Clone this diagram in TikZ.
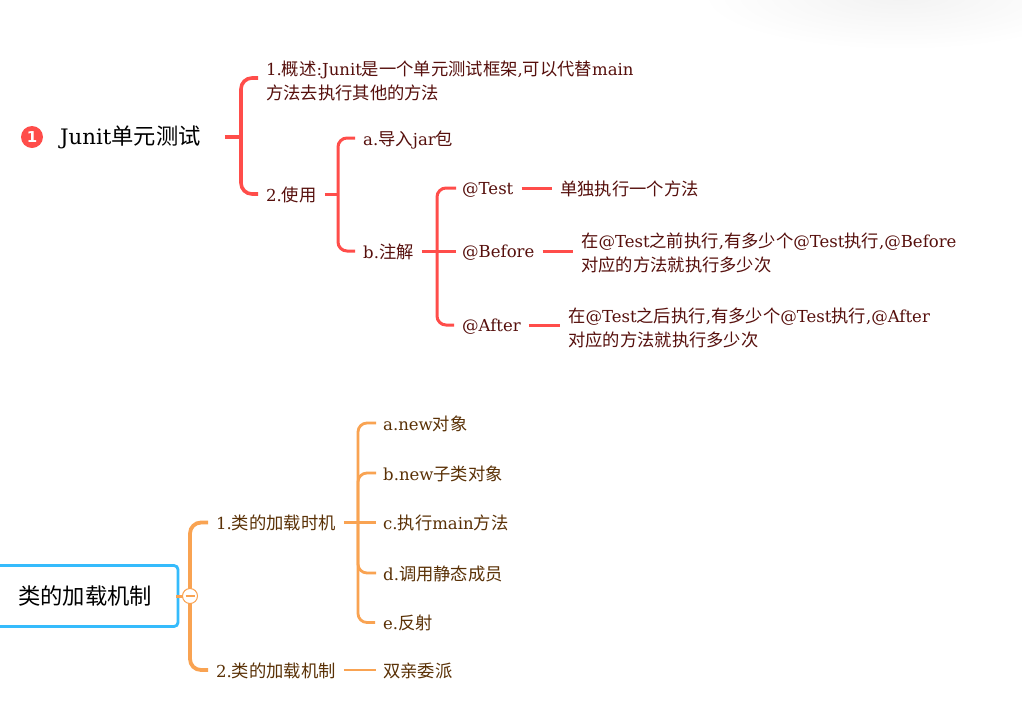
\documentclass[tikz,border=0pt]{standalone}
\usepackage{fontspec}
\setmainfont{DejaVu Serif}[Scale=0.955]
\newfontfamily\cjk{Noto Sans CJK SC}
\newfontfamily\badgefont{DejaVu Sans}
\newcommand{\zh}[1]{{\cjk #1}}
\usetikzlibrary{calc,positioning}
\definecolor{redline}{HTML}{FF4D4A}
\definecolor{redtext}{HTML}{560F0C}
\definecolor{orangeline}{HTML}{F9A352}
\definecolor{orangetext}{HTML}{5A3106}
\definecolor{bluebox}{HTML}{35BBFC}

\begin{document}
\begin{tikzpicture}[
  x=1pt, y=-1pt,
  item/.style={anchor=west, inner sep=0pt, align=left, text height=16pt, text depth=2pt, font=\fontsize{17.3}{24.3}\selectfont},
  reditem/.style={item, text=redtext},
  orangeitem/.style={item, text=orangetext},
  tagitem/.style={reditem, text height=15pt, text depth=3pt},
  twolines/.style={reditem, text height=, text depth=},
  redlink/.style={draw=redline, line width=3pt, rounded corners=9pt, shorten <=8pt, shorten >=8pt},
  redmain/.style={redlink, line width=3.6pt, rounded corners=11pt},
  orangelink/.style={draw=orangeline, line width=2.8pt, rounded corners=9pt, shorten <=8pt, shorten >=8pt},
  orangemain/.style={orangelink, line width=3.8pt, rounded corners=11pt}
]
\clip (0,0) rectangle (1022,721);
\fill[white] (0,0) rectangle (1022,721);
\shade[inner color=black!5, outer color=white] (900,-5) ellipse (200 and 55);

% first map
\node[circle, fill=redline, text=white, inner sep=0pt, minimum size=22pt, font=\badgefont\bfseries\fontsize{15}{15}\selectfont] (badge) at (32,137) {1};
\node[item, text height=19pt, text depth=5pt, font=\fontsize{22.3}{26}\selectfont] (junit) at (60,137) {Junit\zh{单元测试}};

\node[twolines] (overview) at (266,81) {1.\zh{概述}:Junit\zh{是一个单元测试框架},\zh{可以代替}main\\\zh{方法去执行其他的方法}};
\node[reditem] (usage) at (266,194) {2.\zh{使用}};
\node[reditem] (jar) at (363,138) {a.\zh{导入}jar\zh{包}};
\node[reditem] (notes) at (363,251) {b.\zh{注解}};
\node[tagitem] (test) at (462,188) {@Test};
\node[tagitem] (before) at (462,251) {@Before};
\node[tagitem] (after) at (462,325) {@After};
\node[reditem] (testdoc) at (560,188) {\zh{单独执行一个方法}};
\node[twolines] (beforedoc) at (581,253) {\zh{在}@Test\zh{之前执行},\zh{有多少个}@Test\zh{执行},@Before\\\zh{对应的方法就执行多少次}};
\node[twolines] (afterdoc) at (568,328) {\zh{在}@Test\zh{之后执行},\zh{有多少个}@Test\zh{执行},@After\\\zh{对应的方法就执行多少次}};

\coordinate (junithub) at (241,137);
\coordinate (usagehub) at (338,194);
\coordinate (noteshub) at (437,251);

\draw[redmain, shorten >=0pt, shorten <=24pt] (junit.east) -- (junithub);
\draw[redmain] ($(overview.west)+(0,-3)$) -| (junithub) |- (usage.west);
\draw[redlink, shorten >=0pt] (usage.east) -- (usagehub);
\draw[redlink] (jar.west) -| (usagehub) |- (notes.west);
\draw[redlink, shorten >=0pt] (notes.east) -- (noteshub);
\draw[redlink, shorten <=6pt] (test.west) -| (noteshub) |- (after.west);
\draw[redlink, shorten >=0pt, shorten <=6pt] (before.west) -- (noteshub);
\draw[redlink] (test.east) -- (testdoc.west);
\draw[redlink] (before.east) -- (before.east -| beforedoc.west);
\draw[redlink] (after.east) -- (after.east -| afterdoc.west);

% second map
\node[draw=bluebox, line width=2.8pt, rounded corners=4pt, fill=white, minimum width=186pt, minimum height=61pt, inner sep=0pt, font=\fontsize{22.3}{26}\selectfont] (loading) at (85,596) {\zh{类的加载机制}};

\node[orangeitem] (timing) at (216,522.5) {1.\zh{类的加载时机}};
\node[orangeitem] (mechanism) at (216,670) {2.\zh{类的加载机制}};
\node[orangeitem] (newobj) at (383,423) {a.new\zh{对象}};
\node[orangeitem] (newsub) at (383,473) {b.new\zh{子类对象}};
\node[orangeitem] (runmain) at (383,522.5) {c.\zh{执行}main\zh{方法}};
\node[orangeitem] (callstatic) at (383,573) {d.\zh{调用静态成员}};
\node[orangeitem] (reflection) at (383,622.5) {e.\zh{反射}};
\node[orangeitem] (parents) at (383,670) {\zh{双亲委派}};

\coordinate (loadinghub) at (190,596);
\coordinate (timinghub) at (358,522.5);

\draw[orangemain] (timing.west) -| (loadinghub) |- (mechanism.west);
\draw[orangelink, shorten >=0pt] (timing.east) -- (timinghub);
\draw[orangelink, shorten <=7pt] (newobj.west) -| (timinghub) |- (reflection.west);
\foreach \branch in {newsub,callstatic} {
  \draw[orangelink, shorten >=0pt, shorten <=7pt] (\branch.west) -| (timinghub);
}
\draw[orangelink, shorten >=0pt, shorten <=7pt] (runmain.west) -- (timinghub);
\draw[orangelink, shorten <=8pt, shorten >=7pt] (mechanism.east) -- (parents.west);

\draw[draw=orangeline, line width=3pt, shorten <=-3pt, shorten >=0pt] (loading.east) -- (loadinghub);
\node[circle, draw=orangeline, line width=1pt, fill=white, minimum size=15pt, inner sep=0pt] (fold) at (loadinghub) {};
\draw[draw=orangeline, line width=1.4pt] ($(fold.center)+(-4.5,0)$) -- ($(fold.center)+(4.5,0)$);
\end{tikzpicture}
\end{document}
